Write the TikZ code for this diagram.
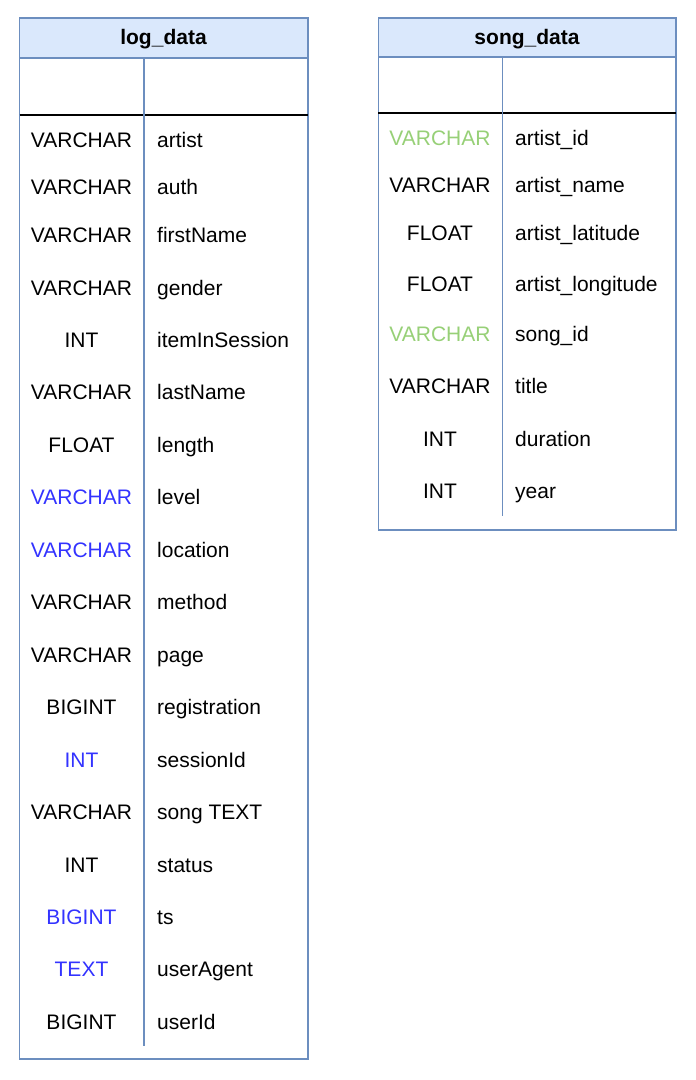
\documentclass[tikz,border=0pt]{standalone}
\usepackage{fontspec}
\setmainfont{Liberation Sans}
\definecolor{frame}{HTML}{6C8EBF}
\definecolor{headfill}{HTML}{DAE8FC}
\definecolor{keyblue}{HTML}{3333FF}
\definecolor{keygreen}{HTML}{97D077}
\begin{document}
\begin{tikzpicture}[x=1pt,y=-1pt,
  frameline/.style={draw=frame,line width=1.5pt},
  sepline/.style={draw=black,line width=1.6pt},
  divline/.style={draw=frame,line width=1.5pt},
  head/.style={font=\fontsize{21}{24}\selectfont\bfseries,anchor=center,inner sep=0pt},
  typ/.style={font=\fontsize{21}{24}\selectfont,anchor=base,inner sep=0pt},
  fld/.style={font=\fontsize{21}{24}\selectfont,anchor=base west,inner sep=0pt}]
\useasboundingbox (0,0) rectangle (696,1080);
% left table
\draw[frameline,fill=white] (19.5,18) rectangle (308,1059);
\draw[frameline,fill=headfill] (19.5,18) rectangle (308,58);
\node[head] (lh) at (163.5,39) {log\_data};
\draw[sepline] (19.5,114.7) -- (308,114.7);
\draw[divline] (144,58) -- (144,1046);
% right table
\draw[frameline,fill=white] (378.3,18) rectangle (676,530);
\draw[frameline,fill=headfill] (378.3,18) rectangle (676,57);
\node[head] (rh) at (527,39) {song\_data};
\draw[sepline] (378.3,113) -- (676,113);
\draw[divline] (502.7,57) -- (502.7,516);
% left rows
\foreach \i/\y/\t/\c/\n in {
 1/147/VARCHAR/black/artist,
 2/194/VARCHAR/black/auth,
 3/242/VARCHAR/black/firstName,
 4/295/VARCHAR/black/gender,
 5/347/INT/black/itemInSession,
 6/399/VARCHAR/black/lastName,
 7/452/FLOAT/black/length,
 8/504/VARCHAR/keyblue/level,
 9/557/VARCHAR/keyblue/location,
 10/609/VARCHAR/black/method,
 11/662/VARCHAR/black/page,
 12/714/BIGINT/black/registration,
 13/767/INT/keyblue/sessionId,
 14/819/VARCHAR/black/song TEXT,
 15/872/INT/black/status,
 16/924/BIGINT/keyblue/ts,
 17/976/TEXT/keyblue/userAgent,
 18/1029/BIGINT/black/userId}{
 \node[typ,text=\c] (lt\i) at (81.5,\y) {\t};
 \node[fld] (ln\i) at (157,\y) {\n};
}
% right rows
\foreach \i/\y/\t/\c/\n in {
 1/145/VARCHAR/keygreen/artist\_id,
 2/192/VARCHAR/black/artist\_name,
 3/240/FLOAT/black/artist\_latitude,
 4/291/FLOAT/black/artist\_longitude,
 5/341/VARCHAR/keygreen/song\_id,
 6/393/VARCHAR/black/title,
 7/446/INT/black/duration,
 8/498/INT/black/year}{
 \node[typ,text=\c] (rt\i) at (440,\y) {\t};
 \node[fld] (rn\i) at (515,\y) {\n};
}
\end{tikzpicture}
\end{document}
